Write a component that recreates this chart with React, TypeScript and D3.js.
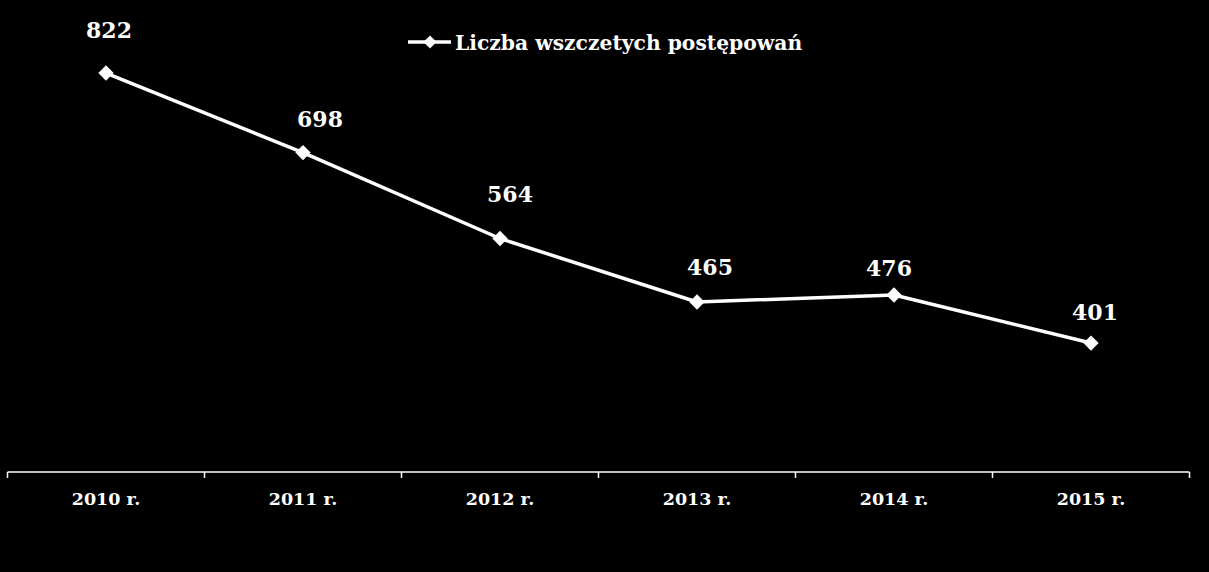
import React from "react";
import * as d3 from "d3";

const categories = ["2010 r.", "2011 r.", "2012 r.", "2013 r.", "2014 r.", "2015 r."];
const values = [822, 698, 564, 465, 476, 401];
const seriesName = "Liczba wszczetych postępowań";
// manual label placement offsets (px) relative to each point, as in the reference
const labelDx = [3, 17, 10, 13, -5, 4];
const labelDy = [-35, -26, -37, -27, -19, -23];

const W = 1209;
const H = 572;
const FONT = "'DejaVu Serif', serif";

export default function App() {
  const x = d3.scaleBand<string>().domain(categories).range([7.5, 1189.5]).padding(0);
  const y = d3.scaleLinear().domain([200, 900]).range([472, 23]);
  const cx = (c: string) => (x(c) ?? 0) + x.bandwidth() / 2;
  const line = d3
    .line<number>()
    .x((_, i) => cx(categories[i]))
    .y((d) => y(d));
  const diamond = d3.symbol().type(d3.symbolDiamond2).size(150)();
  const legendDiamond = d3.symbol().type(d3.symbolDiamond2).size(110)();
  const ticks = [...categories.map((c) => x(c) ?? 0), (x(categories[categories.length - 1]) ?? 0) + x.bandwidth()];

  return (
    <svg
      width={W}
      height={H}
      style={{ position: "absolute", left: 0, top: 0, background: "#000", display: "block" }}
    >
      <rect x={0} y={0} width={W} height={H} fill="#000" />
      {/* axis */}
      <line x1={x.range()[0]} x2={x.range()[1]} y1={y(200)} y2={y(200)} stroke="#fff" strokeWidth={1.5} />
      {ticks.map((t, i) => (
        <line key={i} x1={t} x2={t} y1={y(200)} y2={y(200) + 6} stroke="#fff" strokeWidth={1.5} />
      ))}
      {categories.map((c) => (
        <text
          key={c}
          x={cx(c)}
          y={505}
          textAnchor="middle"
          fill="#fff"
          fontFamily={FONT}
          fontWeight="bold"
          fontSize={17.5}
        >
          {c}
        </text>
      ))}
      {/* series */}
      <path d={line(values) ?? ""} fill="none" stroke="#fff" strokeWidth={3.5} strokeLinejoin="round" />
      {values.map((v, i) => (
        <path key={i} d={diamond ?? ""} transform={`translate(${cx(categories[i])},${y(v)})`} fill="#fff" />
      ))}
      {values.map((v, i) => (
        <text
          key={"l" + i}
          x={cx(categories[i]) + labelDx[i]}
          y={y(v) + labelDy[i]}
          textAnchor="middle"
          fill="#fff"
          fontFamily={FONT}
          fontWeight="bold"
          fontSize={22}
        >
          {v}
        </text>
      ))}
      {/* legend */}
      <line x1={408} x2={451} y1={42} y2={42} stroke="#fff" strokeWidth={3.5} />
      <path d={legendDiamond ?? ""} transform="translate(430,42)" fill="#fff" />
      <text x={455} y={50} fill="#fff" fontFamily={FONT} fontWeight="bold" fontSize={20.3}>
        {seriesName}
      </text>
    </svg>
  );
}
